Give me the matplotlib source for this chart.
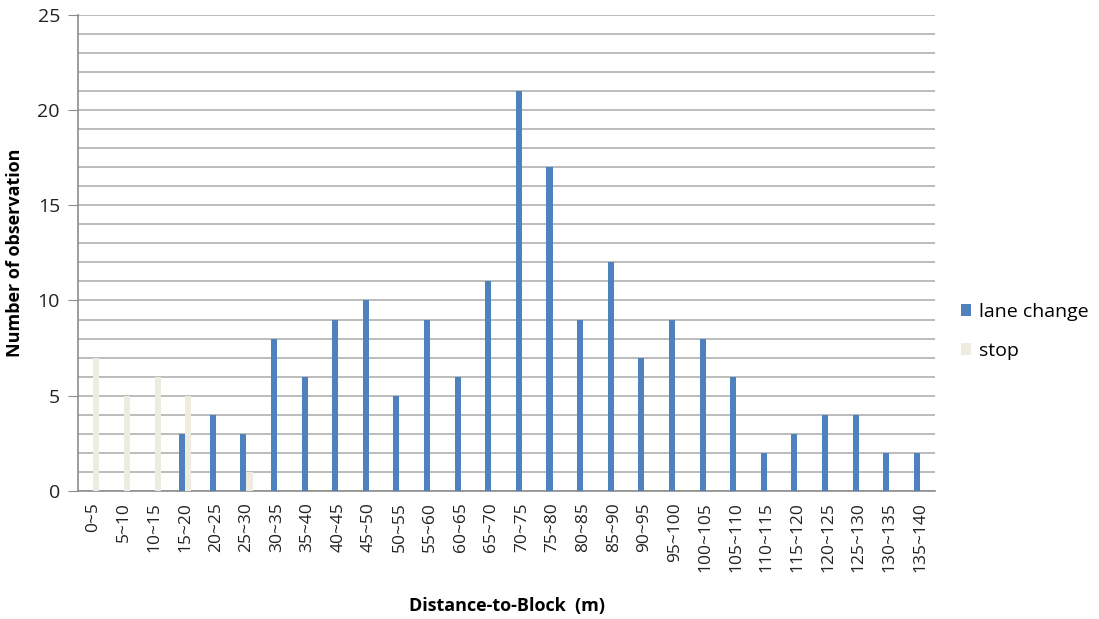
import numpy as np
import matplotlib.pyplot as plt

categories = ["0~5", "5~10", "10~15", "15~20", "20~25", "25~30", "30~35", "35~40",
              "40~45", "45~50", "50~55", "55~60", "60~65", "65~70", "70~75", "75~80",
              "80~85", "85~90", "90~95", "95~100", "100~105", "105~110", "110~115",
              "115~120", "120~125", "125~130", "130~135", "135~140"]
lane_change = [0, 0, 0, 3, 4, 3, 8, 6, 9, 10, 5, 9, 6, 11, 21, 17, 9, 12, 7, 9, 8, 6,
               2, 3, 4, 4, 2, 2]
stop = [7, 5, 6, 5, 0, 1, 0, 0, 0, 0, 0, 0, 0, 0, 0, 0, 0, 0, 0, 0, 0, 0,
        0, 0, 0, 0, 0, 0]

plt.rcParams['font.family'] = ['Open Sans', 'DejaVu Sans']

fig = plt.figure(figsize=(10.99, 6.19), dpi=100)
ax = fig.add_axes([0.071, 0.207, 0.780, 0.769])

x = np.arange(len(categories))
w = 0.2
ax.bar(x - w / 2, lane_change, w, color="#4F81BD", label="lane change", zorder=3)
ax.bar(x + w / 2, stop, w, color="#EEECE1", label="stop", zorder=3)

ax.set_xlim(-0.5, len(categories) - 0.5)
ax.set_ylim(0, 25)
ax.set_yticks(np.arange(0, 26, 5))
ax.set_yticks(np.arange(0, 26, 1), minor=True)
ax.grid(axis="y", which="both", color="#b0b0b0", linewidth=1.2, zorder=0)
ax.set_axisbelow(True)

ax.set_xticks(x)
ax.set_xticklabels(categories, rotation=90, fontsize=12.5, color="#222222")
ax.tick_params(axis="x", length=0, pad=8)
ax.tick_params(axis="y", which="major", length=7, color="#8c8c8c", labelsize=14,
               labelcolor="#222222", pad=6)
ax.tick_params(axis="y", which="minor", length=0)

for s in ["top", "right"]:
    ax.spines[s].set_visible(False)
for s in ["left", "bottom"]:
    ax.spines[s].set_color("#8c8c8c")
    ax.spines[s].set_linewidth(1.2)

ax.set_xlabel("Distance-to-Block  (m)", fontsize=13, fontweight="bold", labelpad=18)
ax.set_ylabel("Number of observation", fontsize=13, fontweight="bold")
ax.yaxis.set_label_coords(-0.063, 0.5)

ax.legend(loc="center left", bbox_to_anchor=(1.01, 0.335), frameon=False,
          fontsize=14, handlelength=0.5, handleheight=0.6, labelspacing=1.1,
          handletextpad=0.4)

fig.savefig("out.png", dpi=100)
